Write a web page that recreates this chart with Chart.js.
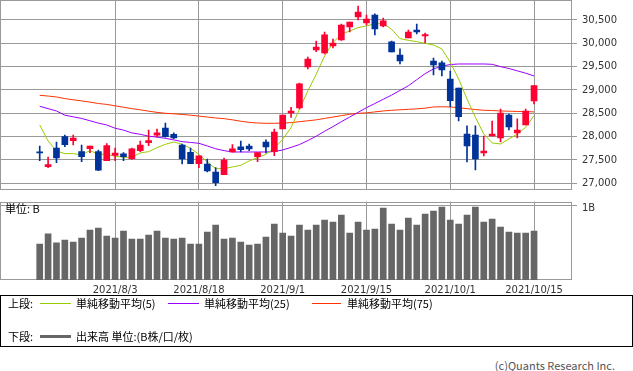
<!DOCTYPE html>
<html>
<head>
<meta charset="utf-8">
<script src="https://cdn.jsdelivr.net/npm/chart.js@4.4.0/dist/chart.umd.min.js"></script>
<style>
  body { margin: 0; width: 633px; height: 371px; background: #fff; position: relative; overflow: hidden;
         font-family: "Noto Sans CJK JP", sans-serif; font-size: 11px; color: #000; }
  #price { position: absolute; left: 0; top: 0; }
  #volume { position: absolute; left: 0; top: 196px; }
  #legend { position: absolute; left: 0; top: 295px; width: 633px; height: 52px; box-sizing: border-box; border: 1px solid #000; }
  .t { position: absolute; white-space: nowrap; line-height: 12px; }
  .ln { position: absolute; height: 1px; }
  #copy { position: absolute; right: 18px; top: 359px; color: #555; line-height: 12px; }
</style>
</head>
<body>
<canvas id="price" width="633" height="192"></canvas>
<canvas id="volume" width="633" height="104"></canvas>
<div id="legend"></div>
<div id="copy">(c)Quants Research Inc.</div>
<script>
const dates = ["2021/7/19","2021/7/20","2021/7/21","2021/7/26","2021/7/27","2021/7/28","2021/7/29","2021/7/30","2021/8/2","2021/8/3",
  "2021/8/4","2021/8/5","2021/8/6","2021/8/10","2021/8/11","2021/8/12","2021/8/13","2021/8/16","2021/8/17","2021/8/18",
  "2021/8/19","2021/8/20","2021/8/23","2021/8/24","2021/8/25","2021/8/26","2021/8/27","2021/8/30","2021/8/31","2021/9/1",
  "2021/9/2","2021/9/3","2021/9/6","2021/9/7","2021/9/8","2021/9/9","2021/9/10","2021/9/13","2021/9/14","2021/9/15",
  "2021/9/16","2021/9/17","2021/9/21","2021/9/22","2021/9/24","2021/9/27","2021/9/28","2021/9/29","2021/9/30","2021/10/1",
  "2021/10/4","2021/10/5","2021/10/6","2021/10/7","2021/10/8","2021/10/11","2021/10/12","2021/10/13","2021/10/14","2021/10/15"];

const opens  = [27660,27357,27757,28000,27914,27679,27740,27679,27486,27600, 27629,27529,27700,27871,28029,28186,28050,27821,27664,27421,
                27414,27243,27186,27671,27779,27800,27571,27886,27679,28164, 28507,28614,29493,29857,29793,29943,30071,30350,30564,30436,
                30607,30371,30029,29750,30114,30286,30157,29621,29579,29236, 29043,28057,28036,27650,28014,27971,28464,28079,28250,28764];
const highs  = [27800,27564,27886,28036,28036,27821,27800,27714,27850,27757, 27657,27757,27907,28143,28164,28293,28079,27843,27757,27586,
                27521,27336,27543,27829,27907,27843,27657,27929,28164,28464, 28629,29150,29707,30050,30243,30093,30414,30457,30800,30607,
                30629,30543,30050,29879,30286,30414,30221,29686,29621,29407, 29043,28229,28229,28014,28336,28593,28486,28379,28593,29093];
const lows   = [27486,27336,27443,27786,27821,27464,27657,27271,27486,27486, 27486,27514,27679,27807,27993,27986,27957,27414,27421,27336,
                27243,26950,27186,27671,27671,27700,27464,27650,27593,28164, 28414,28593,29450,29821,29771,29900,30064,30243,30500,30393,
                30179,30350,29814,29557,30114,30200,30007,29321,29300,28643, 28336,27457,27286,27586,28014,27886,28143,27971,28250,28700];
const closes = [27652,27400,27543,27829,27971,27571,27800,27283,27807,27650, 27571,27736,27821,27914,28079,28000,27971,27521,27421,27586,
                27264,27014,27500,27736,27721,27736,27657,27779,28100,28464, 28550,29129,29664,29921,30179,30007,30393,30457,30671,30521,
                30307,30479,29814,29621,30243,30243,30186,29536,29429,28771, 28429,27800,27521,27693,28057,28507,28207,28143,28550,29093];

const ma5  = [28250,27907,27693,27636,27636,27610,27700,27621,27621,27580, 27557,27557,27650,27679,27764,27836,27886,27836,27750,27621,
              27457,27314,27314,27350,27386,27479,27550,27621,27750,27943, 28193,28586,28979,29336,29729,30014,30193,30264,30336,30371,
              30421,30421,30300,30100,30064,30036,30000,29964,29879,29593, 29236,28807,28414,28057,27864,27843,27950,28057,28200,28450];
const ma25 = [28650,28600,28550,28460,28425,28390,28340,28290,28250,28180, 28140,28080,28050,28010,27990,27964,27930,27893,27875,27857,
              27800,27740,27700,27671,27671,27671,27671,27671,27680,27714, 27770,27830,27915,28010,28115,28215,28320,28420,28520,28620,
              28710,28800,28890,28990,29090,29220,29350,29450,29510,29545, 29557,29557,29557,29557,29550,29500,29460,29410,29360,29300];
const ma75 = [28886,28870,28850,28815,28790,28765,28740,28710,28690,28660, 28630,28600,28575,28545,28520,28500,28490,28475,28460,28440,
              28420,28400,28385,28360,28330,28305,28292,28286,28286,28290, 28300,28320,28340,28360,28390,28420,28450,28480,28500,28510,
              28530,28550,28565,28575,28585,28595,28610,28636,28640,28636, 28620,28600,28580,28565,28560,28550,28545,28540,28535,28530];

// 出来高 (B)
const volumes = [0.48,0.617,0.497,0.533,0.507,0.56,0.667,0.693,0.587,0.56, 0.653,0.547,0.547,0.6,0.653,0.56,0.547,0.56,0.48,0.48,
                 0.64,0.733,0.547,0.56,0.507,0.467,0.48,0.573,0.747,0.627, 0.587,0.733,0.667,0.733,0.8,0.773,0.867,0.627,0.773,0.667,
                 0.68,0.96,0.747,0.667,0.827,0.733,0.88,0.92,0.973,0.8, 0.747,0.867,0.973,0.773,0.813,0.707,0.64,0.627,0.627,0.653];

const priceTicks = [27000, 27500, 28000, 28500, 29000, 29500, 30000, 30500];
const tickDates = ["2021/8/3", "2021/8/18", "2021/9/1", "2021/9/15", "2021/10/1", "2021/10/15"];

const UP = "#ff0033", DOWN = "#003399", GRID = "#999";
const candleColors = opens.map((o, i) => closes[i] >= o ? UP : DOWN);
const tickIdx = tickDates.map(d => dates.indexOf(d));
const pts = arr => arr.map((v, i) => ({ x: i, y: v }));
const xMin = -4.74, xMax = 63.53;
const labelFont = { family: "DejaVu Sans", size: 10 };

// no extra room for edge labels
const noPad = s => { s.paddingTop = 0; s.paddingBottom = 0; s.paddingLeft = 0; s.paddingRight = 0; };

const frame = {
  id: "frame",
  beforeDatasetsDraw(chart) {
    const { ctx, chartArea: a } = chart;
    ctx.save();
    ctx.strokeStyle = GRID;
    ctx.lineWidth = 1;
    ctx.strokeRect(Math.round(a.left) + 0.5, Math.round(a.top) + 0.5,
      Math.round(a.right - a.left) - 1, Math.round(a.bottom - a.top) - 1);
    ctx.restore();
  }
};

const xAxis = (showLabels) => ({
  type: "linear", min: xMin, max: xMax, offset: false,
  afterBuildTicks: s => { s.ticks = tickIdx.map(v => ({ value: v })); },
  afterFit: s => { s.height = showLabels ? 20 : 0; noPad(s); },
  ticks: { display: showLabels, autoSkip: false, maxRotation: 0, padding: 4, font: labelFont, color: "#333",
           callback: v => dates[v] },
  grid: { color: GRID, drawTicks: false, offset: false },
  border: { display: false }
});

new Chart(document.getElementById("price"), {
  type: "bar",
  data: {
    datasets: [
      { type: "bar", data: dates.map((d, i) => ({ x: i, y: [lows[i], highs[i]] })), backgroundColor: candleColors,
        barThickness: 1, grouped: false, order: 1 },
      { type: "bar", data: dates.map((d, i) => ({ x: i, y: [opens[i], closes[i]] })), backgroundColor: candleColors,
        barThickness: 6, minBarLength: 1, grouped: false, order: 0 },
      { type: "line", label: "単純移動平均(5)", data: pts(ma5), borderColor: "#99cc00", borderWidth: 1, pointRadius: 0, order: 2 },
      { type: "line", label: "単純移動平均(25)", data: pts(ma25), borderColor: "#9900ff", borderWidth: 1, pointRadius: 0, order: 3 },
      { type: "line", label: "単純移動平均(75)", data: pts(ma75), borderColor: "#ff3300", borderWidth: 1, pointRadius: 0, order: 4 }
    ]
  },
  options: {
    responsive: false,
    animation: false,
    layout: { padding: { top: 0, bottom: 1.7, left: 0, right: 0 } },
    plugins: { legend: { display: false }, tooltip: { enabled: false } },
    scales: {
      x: xAxis(false),
      y: {
        position: "right", min: 26850, max: 30928, beginAtZero: false,
        afterBuildTicks: s => { s.ticks = priceTicks.map(v => ({ value: v })); },
        afterFit: s => { s.width = 61; noPad(s); },
        ticks: { font: labelFont, color: "#333", padding: 5, callback: v => v.toLocaleString("en-US") },
        grid: { color: GRID, tickLength: 5 },
        border: { display: false }
      }
    }
  },
  plugins: [frame]
});

const unitLabel = {
  id: "unitLabel",
  afterDraw(chart) {
    const { ctx, chartArea: a } = chart;
    ctx.save();
    ctx.font = '11px "Noto Sans CJK JP"';
    ctx.fillStyle = "#000";
    ctx.textBaseline = "middle";
    ctx.fillText("単位: B", a.left + 5, a.top + 7.5);
    ctx.restore();
  }
};

new Chart(document.getElementById("volume"), {
  type: "bar",
  data: {
    datasets: [
      { label: "出来高 単位:(B株/口/枚)", data: pts(volumes), backgroundColor: "#666", barThickness: 6, grouped: false }
    ]
  },
  options: {
    responsive: false,
    animation: false,
    layout: { padding: { top: 5.7, bottom: 0, left: 0, right: 0 } },
    plugins: { legend: { display: false }, tooltip: { enabled: false } },
    scales: {
      x: xAxis(true),
      y: {
        position: "right", min: 0, max: 1.044,
        afterBuildTicks: s => { s.ticks = [{ value: 1 }]; },
        afterFit: s => { s.width = 61; noPad(s); },
        ticks: { font: labelFont, color: "#333", padding: 5, labelOffset: 3, callback: () => "1B" },
        grid: { color: GRID, tickLength: 5 },
        border: { display: false }
      }
    }
  },
  plugins: [frame, unitLabel]
});

// legend box
const legendRows = [
  { title: "上段:", top: 1, items: [
    { label: "単純移動平均(5)", color: "#99cc00", line: 39, text: 75, w: 31, h: 1 },
    { label: "単純移動平均(25)", color: "#9900ff", line: 167, text: 203, w: 31, h: 1 },
    { label: "単純移動平均(75)", color: "#ff3300", line: 311, text: 346, w: 29, h: 1 }
  ] },
  { title: "下段:", top: 34, items: [
    { label: "出来高 単位:(B株/口/枚)", color: "#666", line: 39, text: 75, w: 31, h: 3 }
  ] }
];
const legend = document.getElementById("legend");
legendRows.forEach(row => {
  let html = `<div class="t" style="left:7px;top:${row.top}px">${row.title}</div>`;
  row.items.forEach(it => {
    html += `<div class="ln" style="left:${it.line}px;top:${row.top + 6 - Math.floor(it.h / 2)}px;width:${it.w}px;height:${it.h}px;background:${it.color}"></div>`;
    html += `<div class="t" style="left:${it.text}px;top:${row.top}px">${it.label}</div>`;
  });
  legend.insertAdjacentHTML("beforeend", html);
});
</script>
</body>
</html>
